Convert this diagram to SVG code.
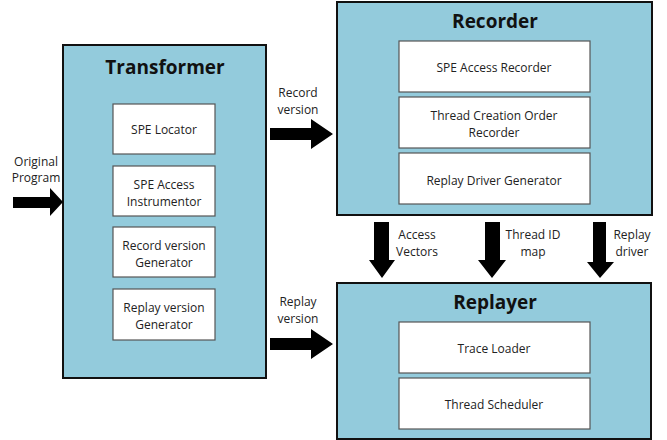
<svg xmlns="http://www.w3.org/2000/svg" width="667" height="440" viewBox="0 0 667 440">
<style>
.outer{fill:#93cbdc;stroke:#111;stroke-width:2}
.inner{fill:#fff;stroke:#555;stroke-width:1.2}
.title{font-family:"Open Sans","Liberation Sans",sans-serif;font-weight:bold;font-size:19px;fill:#111;text-anchor:middle}
.t{font-family:"Open Sans","Liberation Sans",sans-serif;font-size:12px;fill:#222;text-anchor:middle}
.arr{fill:#000}
</style>
<rect width="667" height="440" fill="#fff"/>
<g id="transformer">
<rect class="outer" x="63" y="45" width="203" height="333"/>
<text class="title" x="165" y="74">Transformer</text>
<g id="spe-locator"><rect class="inner" x="113" y="104" width="102" height="50"/><text class="t" x="164" y="134">SPE Locator</text></g>
<g id="spe-access-instrumentor"><rect class="inner" x="113" y="166" width="102" height="50"/><text class="t" x="164" y="189">SPE Access</text><text class="t" x="164" y="206">Instrumentor</text></g>
<g id="record-version-generator"><rect class="inner" x="113" y="227" width="102" height="50"/><text class="t" x="164" y="250">Record version</text><text class="t" x="164" y="267">Generator</text></g>
<g id="replay-version-generator"><rect class="inner" x="113" y="289" width="102" height="51"/><text class="t" x="164" y="312">Replay version</text><text class="t" x="164" y="329">Generator</text></g>
</g>
<g id="recorder">
<rect class="outer" x="337" y="2" width="315" height="213"/>
<text class="title" x="495" y="28">Recorder</text>
<g id="spe-access-recorder"><rect class="inner" x="399" y="41" width="191" height="51"/><text class="t" x="494" y="72">SPE Access Recorder</text></g>
<g id="thread-creation-order-recorder"><rect class="inner" x="399" y="97" width="191" height="51"/><text class="t" x="494" y="120">Thread Creation Order</text><text class="t" x="494" y="137">Recorder</text></g>
<g id="replay-driver-generator"><rect class="inner" x="399" y="153" width="191" height="51"/><text class="t" x="494" y="185">Replay Driver Generator</text></g>
</g>
<g id="replayer">
<rect class="outer" x="337" y="283" width="314" height="156"/>
<text class="title" x="495" y="309">Replayer</text>
<g id="trace-loader"><rect class="inner" x="399" y="322" width="191" height="51"/><text class="t" x="494" y="353">Trace Loader</text></g>
<g id="thread-scheduler"><rect class="inner" x="399" y="378" width="191" height="51"/><text class="t" x="494" y="409">Thread Scheduler</text></g>
</g>
<g id="connectors">
<polygon class="arr" points="13,197 50,197 50,188 63,202 50,216 50,208 13,208"/>
<text class="t" x="36" y="166">Original</text>
<text class="t" x="36" y="182">Program</text>
<polygon class="arr" points="270,128 311,128 311,119 333,134 311,149 311,140 270,140"/>
<text class="t" x="298" y="97">Record</text>
<text class="t" x="298" y="114">version</text>
<polygon class="arr" points="270,338 311,338 311,329 333,344 311,359 311,350 270,350"/>
<text class="t" x="298" y="306">Replay</text>
<text class="t" x="298" y="323">version</text>
<polygon class="arr" points="374,222 389,222 389,260 395,260 382,278 369,260 374,260"/>
<text class="t" x="417" y="239">Access</text>
<text class="t" x="417" y="256">Vectors</text>
<polygon class="arr" points="485,222 500,222 500,260 506,260 492,278 478,260 485,260"/>
<text class="t" x="533" y="239">Thread ID</text>
<text class="t" x="533" y="256">map</text>
<polygon class="arr" points="593,222 606,222 606,262 614,262 600,278 587,262 593,262"/>
<text class="t" x="632" y="239">Replay</text>
<text class="t" x="632" y="256">driver</text>
</g>
</svg>
